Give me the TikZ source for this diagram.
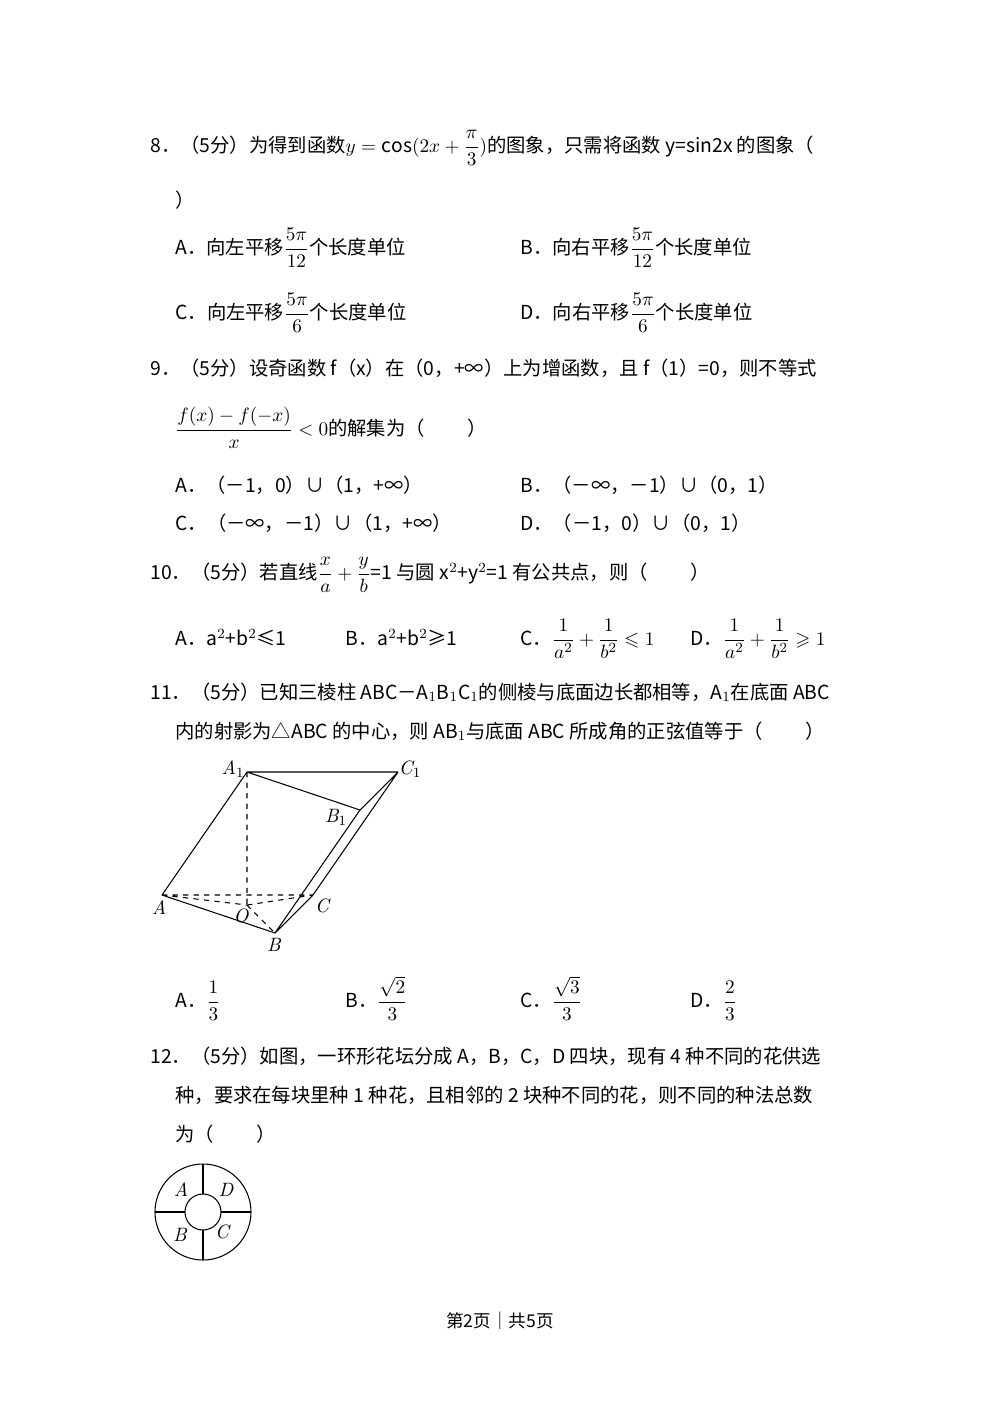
\documentclass[tikz,border=0pt]{standalone}
\usepackage{amsmath,amssymb}
\usepackage{fontspec}
\setmainfont{Noto Sans CJK SC}
\newfontfamily\lmfont{Latin Modern Roman}
\begin{document}
\begin{tikzpicture}[x=0.02cm,y=-0.02cm,
  txt/.style={anchor=base west,inner sep=0pt,font=\fontsize{11}{13}\selectfont},
  lbl/.style={inner sep=0pt,font=\fontsize{11}{13}\selectfont\lmfont\itshape},
  edge/.style={line width=0.6pt},
  hid/.style={line width=0.6pt,dashed}]
\useasboundingbox (0,0) rectangle (1000,1414);
\fill[white] (0,0) rectangle (1000,1414);
\node[txt] (q8) at (150,152) {8．（5分）为得到函数$y=\cos(2x+\dfrac{\pi}{3})$的图象，只需将函数 y=sin2x 的图象（};
\node[txt] (q8b) at (175,207) {）};
\node[txt] (q8A) at (175,254) {A．向左平移$\dfrac{5\pi}{12}$个长度单位};
\node[txt] (q8B) at (520,254) {B．向右平移$\dfrac{5\pi}{12}$个长度单位};
\node[txt] (q8C) at (175,319) {C．向左平移$\dfrac{5\pi}{6}$个长度单位};
\node[txt] (q8D) at (520,319) {D．向右平移$\dfrac{5\pi}{6}$个长度单位};
\node[txt] (q9) at (150,375) {9．（5分）设奇函数 f（x）在（0，+∞）上为增函数，且 f（1）=0，则不等式};
\node[txt] (q9b) at (175,435) {$\dfrac{f(x)-f(-x)}{x}<0$的解集为（\hspace{2.2em}）};
\node[txt] (q9A) at (175,492) {A．（－1，0）∪（1，+∞）};
\node[txt] (q9B) at (520,492) {B．（－∞，－1）∪（0，1）};
\node[txt] (q9C) at (175,530) {C．（－∞，－1）∪（1，+∞）};
\node[txt] (q9D) at (520,530) {D．（－1，0）∪（0，1）};
\node[txt] (q10) at (150,579) {10．（5分）若直线$\dfrac{x}{a}+\dfrac{y}{b}$=1 与圆 x$^2$+y$^2$=1 有公共点，则（\hspace{2.2em}）};
\node[txt] (q10A) at (175,645) {A．a$^2$+b$^2$≤1};
\node[txt] (q10B) at (345,645) {B．a$^2$+b$^2$≥1};
\node[txt] (q10C) at (520,645) {C．$\dfrac{1}{a^2}+\dfrac{1}{b^2}\leqslant 1$};
\node[txt] (q10D) at (690,645) {D．$\dfrac{1}{a^2}+\dfrac{1}{b^2}\geqslant 1$};
\node[txt] (q11) at (150,699) {11．（5分）已知三棱柱 ABC－A$_1$B$_1$C$_1$的侧棱与底面边长都相等，A$_1$在底面 ABC};
\node[txt] (q11b) at (175,738) {内的射影为△ABC 的中心，则 AB$_1$与底面 ABC 所成角的正弦值等于（\hspace{2.2em}）};
% prism
\coordinate (A1) at (247,772);
\coordinate (C1) at (398,772);
\coordinate (B1) at (360,810);
\coordinate (A) at (162,895);
\coordinate (C) at (313,895);
\coordinate (B) at (275,933);
\coordinate (O) at (247,905);
\draw[edge] (A1)--(C1) (A1)--(B1) (B1)--(C1) (A1)--(A) (A)--(B) (B)--(C) (B1)--(B) (C1)--(C);
\draw[hid] (A1)--(O) (A)--(C) (A)--(O) (O)--(C) (O)--(B);
\node[lbl] (lA1) at (233,769) {A$_1$};
\node[lbl] (lC1) at (410,769) {C$_1$};
\node[lbl] (lB1) at (336,817) {B$_1$};
\node[lbl] (lA) at (159,908) {A};
\node[lbl] (lC) at (322,906) {C};
\node[lbl] (lO) at (241,916) {O};
\node[lbl] (lB) at (274,945) {B};
\node[txt] (q11A) at (175,1007) {A．$\dfrac{1}{3}$};
\node[txt] (q11B) at (345,1007) {B．$\dfrac{\sqrt{2}}{3}$};
\node[txt] (q11C) at (520,1007) {C．$\dfrac{\sqrt{3}}{3}$};
\node[txt] (q11D) at (690,1007) {D．$\dfrac{2}{3}$};
\node[txt] (q12) at (150,1063) {12．（5分）如图，一环形花坛分成 A，B，C，D 四块，现有 4 种不同的花供选};
\node[txt] (q12b) at (175,1102) {种，要求在每块里种 1 种花，且相邻的 2 块种不同的花，则不同的种法总数};
\node[txt] (q12c) at (175,1141) {为（\hspace{2.2em}）};
% ring
\coordinate (R) at (203,1212);
\draw[edge] (R) circle[radius=48];
\draw[edge] (R) circle[radius=18];
\draw[edge] (203,1164)--(203,1194) (203,1230)--(203,1260) (155,1212)--(185,1212) (221,1212)--(251,1212);
\node[lbl] (rA) at (181,1190) {A};
\node[lbl] (rD) at (226,1190) {D};
\node[lbl] (rB) at (180,1235) {B};
\node[lbl] (rC) at (222,1232) {C};
\node[anchor=base,inner sep=0pt,font=\fontsize{10}{12}\selectfont] (foot) at (500,1327) {第2页｜共5页};
\end{tikzpicture}
\end{document}
